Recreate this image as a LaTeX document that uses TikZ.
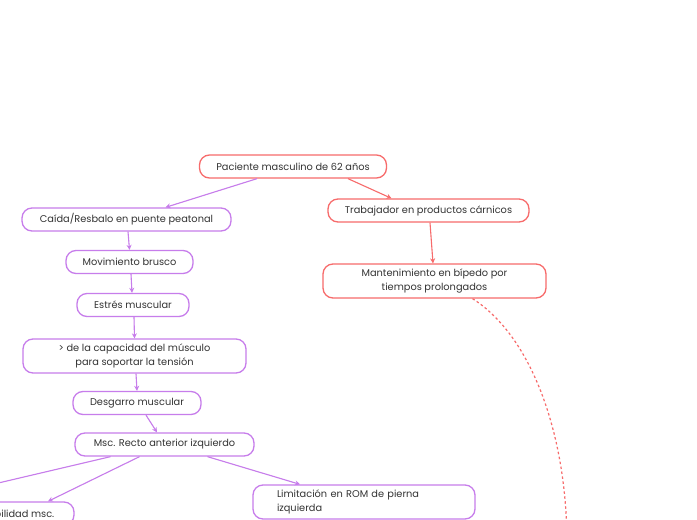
\documentclass[tikz,border=0pt]{standalone}
\usepackage{fontspec}
\setmainfont{Poppins}
\usepackage{xcolor}
\usetikzlibrary{positioning,calc,arrows.meta}
\definecolor{redline}{HTML}{F76B6B}
\definecolor{purpline}{HTML}{C77DEB}
\definecolor{txt}{HTML}{333333}

\begin{document}
\begin{tikzpicture}[x=1pt, y=-1pt,
    red box/.style={draw=redline, line width=1.3pt, rounded corners=10pt, fill=white, minimum height=23pt, inner sep=2pt, align=center, text=txt, font=\fontsize{9.8}{14}\selectfont},
    purp box/.style={red box, draw=purpline},
    red arrow/.style={draw=redline, line width=1.1pt, -{Stealth[length=5pt, width=5pt]}},
    purp arrow/.style={red arrow, draw=purpline, fill=purpline},
    red dash/.style={draw=redline, line width=1.2pt, dash pattern=on 2.5pt off 2.5pt}]
    \fill[white] (0,0) rectangle (697,520);
    \useasboundingbox (0,0) rectangle (697,520);

    % red branch
    \node[red box, minimum width=187pt] (pac) at (293,166.5) {Paciente masculino de 62 años};
    \node[red box, minimum width=201pt] (trab) at (428.5,210.5) {Trabajador en productos cárnicos};
    \node[red box, minimum width=223pt, minimum height=34pt] (mant) at (434.5,281) {Mantenimiento en bípedo por\\ tiempos prolongados};
    \coordinate (abajo) at (567,540);

    % purple branch
    \node[purp box, minimum width=209pt] (caida) at (126.5,219.5) {Caída/Resbalo en puente peatonal};
    \node[purp box, minimum width=127pt] (mov) at (129.5,262) {Movimiento brusco};
    \node[purp box, minimum width=112pt] (estres) at (133,305) {Estrés muscular};
    \node[purp box, minimum width=223pt, minimum height=34pt] (capac) at (134.5,356) {> de la capacidad del músculo\\ para soportar la tensión};
    \node[purp box, minimum width=128pt] (desg) at (137,403) {Desgarro muscular};
    \node[purp box, minimum width=179pt] (msc) at (164.5,444.5) {Msc. Recto anterior izquierdo};
    \node[purp box, minimum width=112pt] (debil) at (18,513.5) {Debilidad msc.};
    \node[purp box, minimum width=222pt, minimum height=34pt, text width=174pt, align=left] (lim) at (364,502) {Limitación en ROM de pierna\\ izquierda};
    \coordinate (izq) at (-40,492);

    \draw[purp arrow] ([xshift=-36pt]pac.south) -- ([xshift=39pt]caida.north);
    \draw[red arrow] ([xshift=55pt]pac.south) -- ([xshift=-37pt]trab.north);
    \draw[red arrow] ([xshift=1.5pt]trab.south) -- ([xshift=-1.5pt]mant.north);
    \draw[red dash] ([xshift=38pt]mant.south) .. controls (530,335) and (566,430) .. (abajo);

    \draw[purp arrow] ([xshift=1.5pt]caida.south) -- (mov.north);
    \draw[purp arrow] ([xshift=1.5pt]mov.south) -- ([xshift=-1pt]estres.north);
    \draw[purp arrow] ([xshift=1pt]estres.south) -- (capac.north);
    \draw[purp arrow] ([xshift=1.5pt]capac.south) -- (desg.north);
    \draw[purp arrow] ([xshift=9pt]desg.south) -- ([xshift=-7.5pt]msc.north);
    \draw[purp arrow] ([xshift=-54pt]msc.south) -- (izq);
    \draw[purp arrow] ([xshift=-25pt]msc.south) -- ([xshift=30pt]debil.north);
    \draw[purp arrow] ([xshift=43pt]msc.south) -- ([xshift=-64pt]lim.north);
\end{tikzpicture}
\end{document}
